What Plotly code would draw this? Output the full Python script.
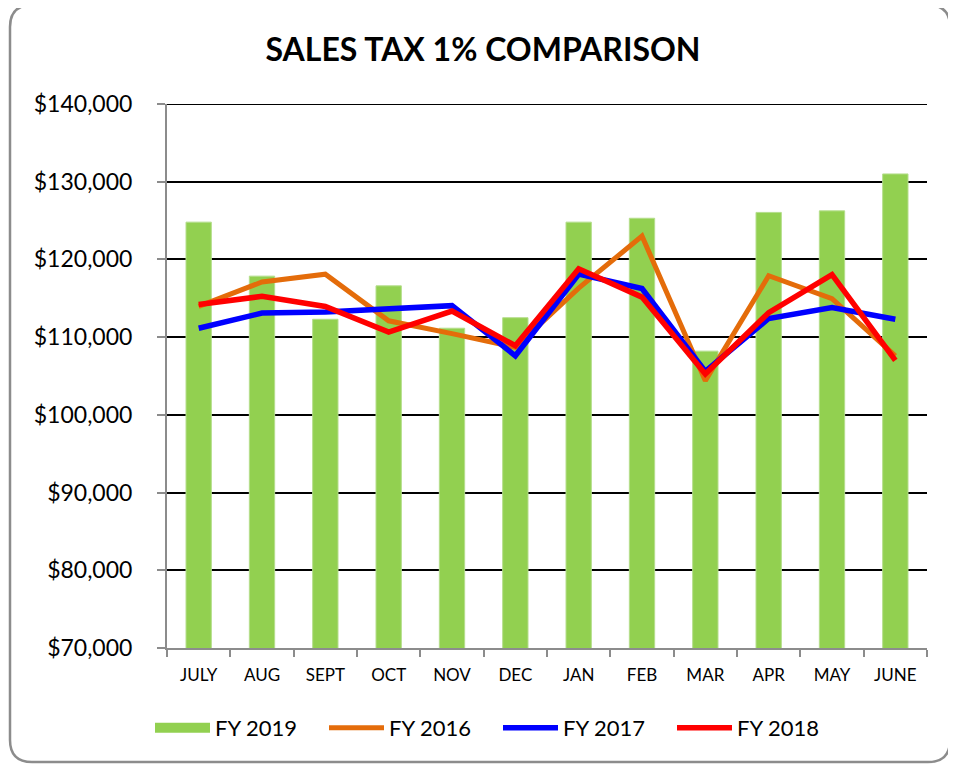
import plotly.graph_objects as go

months = ["JULY", "AUG", "SEPT", "OCT", "NOV", "DEC", "JAN", "FEB", "MAR", "APR", "MAY", "JUNE"]
fy2019 = [124800, 117850, 112300, 116600, 111150, 112500, 124800, 125300, 108200, 126050, 126250, 131000]
fy2016 = [113950, 117100, 118100, 112100, 110450, 108700, 116300, 123000, 104400, 117900, 114950, 107600]
fy2017 = [111150, 113100, 113250, 113600, 114050, 107600, 118100, 116250, 105600, 112400, 113800, 112300]
fy2018 = [114200, 115250, 113950, 110650, 113350, 108900, 118800, 115150, 105250, 113150, 118050, 107000]

OFF = 8  # page body margin
W, H = 956, 766
L, R, T, B = 167 - OFF, 927 - OFF, 104 - OFF, 648 - OFF  # plot area in px (figure coords)
FONT = "Lato"


def px(x):
    return (x - OFF - L) / (R - L)


def py(y):
    return (B - (y - OFF)) / (B - T)


fig = go.Figure()
fig.add_trace(go.Bar(x=months, y=fy2019, name="FY 2019", showlegend=False, legendgroup="fy2019",
                     marker=dict(color="#92D050", line=dict(color="#B5DE8C", width=1))))
fig.add_trace(go.Scatter(x=[None], y=[None], name="FY 2019", legendgroup="fy2019", mode="lines",
                         line=dict(color="#92D050", width=17), hoverinfo="skip"))
fig.add_trace(go.Scatter(x=months, y=fy2016, name="FY 2016", mode="lines", line=dict(color="#E46C0A", width=5)))
fig.add_trace(go.Scatter(x=months, y=fy2017, name="FY 2017", mode="lines", line=dict(color="#0000FF", width=5.5)))
fig.add_trace(go.Scatter(x=months, y=fy2018, name="FY 2018", mode="lines", line=dict(color="#FF0000", width=5.5)))

# rounded outer border (reference px)
x0, x1, y0, y1, r = 10, 950, 5, 762, 22
path = (
    f"M {px(x0 + r)},{py(y0)} L {px(x1 - r)},{py(y0)} Q {px(x1)},{py(y0)} {px(x1)},{py(y0 + r)} "
    f"L {px(x1)},{py(y1 - r)} Q {px(x1)},{py(y1)} {px(x1 - r)},{py(y1)} "
    f"L {px(x0 + r)},{py(y1)} Q {px(x0)},{py(y1)} {px(x0)},{py(y1 - r)} "
    f"L {px(x0)},{py(y0 + r)} Q {px(x0)},{py(y0)} {px(x0 + r)},{py(y0)} Z"
)

fig.update_layout(
    width=W, height=H,
    margin=dict(l=L, r=W - R, t=T, b=H - B),
    paper_bgcolor="white", plot_bgcolor="white",
    font=dict(family=FONT, color="black"),
    title=dict(text="<b>SALES TAX 1% COMPARISON</b>", x=(483 - OFF) / W, xanchor="center",
               y=1 - (50 - OFF) / H, yanchor="middle", font=dict(size=32, family=FONT, color="black")),
    bargap=0.6,
    showlegend=True,
    legend=dict(orientation="h", x=px(150), xanchor="left", y=py(728), yanchor="middle",
                font=dict(size=22, family=FONT), itemwidth=55, entrywidth=104, entrywidthmode="pixels",
                traceorder="normal", bgcolor="rgba(0,0,0,0)"),
    shapes=[
        dict(type="path", path=path, xref="paper", yref="paper",
             line=dict(color="#8C8C8C", width=2.5), layer="below"),
        dict(type="line", xref="paper", yref="y", x0=0, x1=1, y0=140000, y1=140000,
             line=dict(color="black", width=2), layer="below"),
    ],
)
fig.update_xaxes(showline=True, linecolor="#8C8C8C", linewidth=2, ticks="outside",
                 tickson="boundaries", ticklen=7, tickcolor="#8C8C8C", tickwidth=2,
                 ticklabelstandoff=11,
                 tickfont=dict(size=17, family=FONT), showgrid=False)
fig.update_yaxes(range=[70000, 140000], dtick=10000, tickprefix="$", tickformat=",",
                 showline=True, linecolor="#8C8C8C", linewidth=2, ticks="outside",
                 ticklen=8, tickcolor="#8C8C8C", tickwidth=2, ticklabelstandoff=20,
                 tickfont=dict(size=23, family=FONT), showgrid=True, gridcolor="black",
                 gridwidth=2, zeroline=False)

fig.write_html("out.html")
